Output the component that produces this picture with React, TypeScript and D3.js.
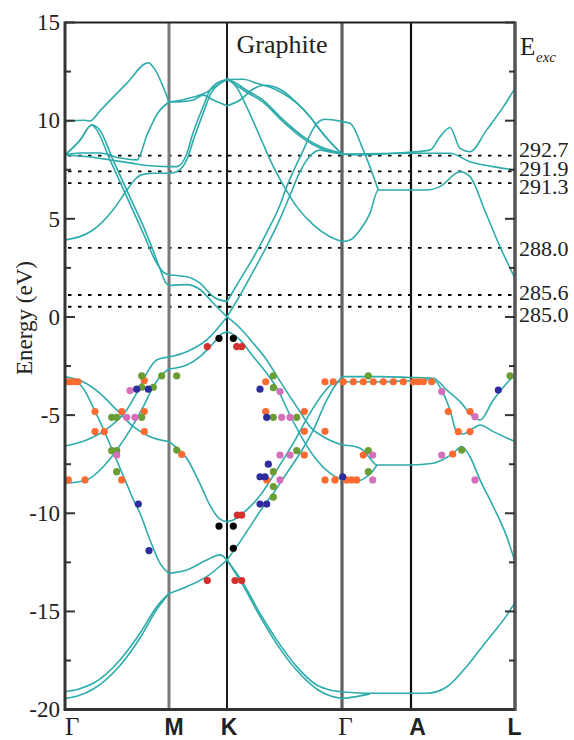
import React from "react";
import * as d3 from "d3";

type P = [number, number];

// ---- axis / labels data ----
const symK = [0, 1.04, 1.62, 2.77, 3.46, 4.5];
const symLabels = ["Γ", "M", "K", "Γ", "A", "L"];
const symBold = [false, true, true, false, true, true];
const energyMajor = [-20, -15, -10, -5, 0, 5, 10, 15];
const energyMinor = [-17.5, -12.5, -7.5, -2.5, 2.5, 7.5, 12.5];
const excEnergies = [292.7, 291.9, 291.3, 288.0, 285.6, 285.0];
const excOrigin = 284.48;

// ---- bands: [k, E(eV)] ----
const bandU1: P[] = [
  [0, 9.95], [0.2, 10.02], [0.25, 9.98], [0.35, 10.5], [0.617, 11.9], [0.833, 12.95], [0.88, 12.75], [1.04, 10.95],
  [1.167, 11.05], [1.283, 11.2], [1.417, 11.45], [1.517, 11.8], [1.62, 12.1],
  [1.783, 12.11], [1.917, 11.9], [2.117, 11.56], [2.317, 10.89], [2.45, 10.2], [2.55, 9.53], [2.65, 8.93], [2.77, 8.3],
];
const bandAlpha: P[] = [
  [0, 8.25], [0.15, 9.0], [0.267, 9.78], [0.317, 9.53], [0.45, 8.0], [0.617, 6.13], [0.783, 4.26], [0.917, 2.74], [0.98, 2.3], [1.04, 2.14],
  [1.217, 2.05], [1.35, 1.72], [1.483, 1.03], [1.62, 0.78],
  [1.75, 1.9], [1.88, 3.0], [2.017, 4.3], [2.15, 5.7], [2.217, 6.64], [2.3, 7.6], [2.383, 8.5], [2.45, 9.27], [2.52, 9.87], [2.6, 10.07], [2.77, 9.95],
  [2.85, 9.87], [2.983, 8.5], [3.133, 6.47],
];
const bandBeta: P[] = [
  [0, 8.25], [0.15, 9.0], [0.267, 9.78], [0.347, 9.53], [0.48, 8.0], [0.647, 6.13], [0.813, 4.26], [0.947, 2.5], [1.0, 1.8], [1.04, 1.6],
  [1.217, 1.65], [1.35, 1.4], [1.483, 0.7], [1.62, 0.0],
  [1.75, 1.1], [1.88, 2.3], [2.017, 3.6], [2.15, 5.0], [2.25, 6.2], [2.35, 7.4], [2.45, 8.2], [2.55, 8.5], [2.65, 8.4], [2.77, 8.3],
];
const bandU3: P[] = [
  [0, 3.92], [0.28, 4.43], [0.48, 5.45], [0.62, 6.47], [0.7, 7.0], [0.77, 7.25], [0.9, 7.32], [1.04, 7.32],
  [1.117, 7.4], [1.217, 8.0], [1.29, 9.1], [1.39, 10.5], [1.46, 11.4], [1.55, 11.9], [1.62, 12.1],
  [1.7, 11.85], [1.8, 11.5], [1.98, 10.95], [2.18, 9.95], [2.38, 9.1], [2.55, 8.6], [2.77, 8.3],
];
const bandU5: P[] = [
  [0, 8.25], [0.25, 8.15], [0.45, 8.0], [0.65, 7.85], [0.85, 7.7], [1.04, 7.66],
  [1.117, 7.66], [1.217, 8.3], [1.28, 9.37], [1.38, 10.7], [1.45, 11.56], [1.55, 12.0], [1.62, 12.1],
  [1.7, 11.95], [1.8, 11.6], [1.98, 11.05], [2.18, 10.05], [2.38, 9.2], [2.55, 8.68], [2.77, 8.34],
];
const bandU4: P[] = [
  [0, 8.25], [0.15, 8.35], [0.35, 8.35], [0.55, 8.1], [0.72, 8.0], [0.82, 9.27], [0.93, 10.4], [1.04, 10.95],
  [1.167, 10.97], [1.283, 11.05], [1.383, 11.3], [1.483, 11.05], [1.62, 10.75],
  [1.75, 11.05], [1.88, 11.6], [2.0, 11.8], [2.15, 11.6], [2.3, 11.0], [2.45, 10.2], [2.55, 9.53], [2.65, 8.93], [2.77, 8.3],
];
const bandKG4: P[] = [
  [1.62, 12.16], [1.717, 11.7], [1.817, 10.7], [1.95, 9.18], [2.083, 7.66], [2.183, 6.72], [2.317, 5.62], [2.483, 4.69], [2.65, 4.09], [2.77, 3.84],
  [2.85, 3.92], [2.95, 4.43], [3.05, 5.28], [3.133, 6.47], [3.35, 6.47], [3.617, 6.47], [3.75, 6.64], [3.95, 7.4], [4.05, 7.15], [4.2, 5.4], [4.35, 3.58], [4.5, 1.97],
];
const bandUpAL1: P[] = [
  [2.77, 8.3], [2.95, 8.25], [3.28, 8.34], [3.65, 8.5], [3.75, 9.18], [3.85, 9.65], [3.95, 8.59], [4.05, 8.42], [4.217, 9.53], [4.383, 10.7], [4.5, 11.65],
];
const bandUpAL2: P[] = [
  [2.77, 8.3], [3.45, 8.34], [3.85, 8.34], [4.05, 7.91], [4.28, 7.66], [4.5, 7.49],
];
const bandLow1: P[] = [
  [0, -19.09], [0.14, -18.95], [0.283, -18.66], [0.55, -17.47], [0.75, -16.11], [0.917, -14.76], [1.04, -14.08],
  [1.217, -13.74], [1.417, -13.23], [1.62, -12.38],
  [1.783, -13.57], [1.95, -15.1], [2.117, -16.45], [2.317, -17.81], [2.517, -18.75], [2.65, -19.0], [2.77, -19.09],
  [3.05, -19.17], [3.617, -19.17], [3.817, -18.85], [4.017, -17.8], [4.217, -16.5], [4.417, -15.2], [4.5, -14.55],
];
const bandLow2: P[] = [
  [0, -19.43], [0.14, -19.28], [0.283, -18.95], [0.55, -17.75], [0.75, -16.35], [0.917, -14.9], [1.04, -14.08],
];
const bandS1: P[] = [
  [0, -3.3], [0.1, -3.3], [0.17, -3.55], [0.3, -4.8], [0.417, -6.1], [0.517, -7.3], [0.617, -8.5], [0.683, -9.3], [0.75, -10.0], [0.85, -11.36], [0.95, -12.55], [1.04, -13.06],
  [1.217, -12.89], [1.417, -12.38], [1.55, -12.12], [1.62, -12.38],
  [1.783, -13.7], [1.95, -15.25], [2.117, -16.65], [2.317, -18.0], [2.517, -18.95], [2.65, -19.3], [2.77, -19.43],
  [2.9, -19.35], [3.05, -19.2],
];
const bandS2: P[] = [
  [0, -3.04], [0.18, -3.3], [0.35, -3.89], [0.517, -4.74], [0.683, -5.59], [0.85, -6.1], [1.04, -6.35],
  [1.08, -6.5], [1.217, -7.2], [1.35, -8.5], [1.45, -9.6], [1.55, -10.3], [1.62, -10.43],
  [1.683, -10.34], [1.817, -9.83], [1.95, -9.1], [2.117, -7.8], [2.283, -6.43], [2.45, -4.9], [2.583, -3.89], [2.683, -3.38], [2.77, -3.3],
  [3.15, -3.3], [3.45, -3.25], [3.683, -3.21], [3.783, -3.89], [3.85, -4.74], [3.917, -5.84], [3.983, -5.96], [4.083, -5.67], [4.15, -5.5], [4.283, -5.84], [4.5, -6.35],
];
const bandSig1: P[] = [
  [1.62, -12.38], [1.717, -11.7], [1.85, -10.68], [1.983, -9.66], [2.083, -8.98], [2.217, -7.96], [2.35, -6.94], [2.483, -5.76], [2.617, -4.23], [2.717, -3.38], [2.77, -3.04],
  [3.15, -3.04], [3.45, -3.08], [3.683, -3.12], [3.817, -3.72], [3.95, -4.31], [4.083, -5.08], [4.15, -5.25], [4.283, -4.23], [4.417, -3.38], [4.5, -2.95],
];
const bandP1: P[] = [
  [0, -6.57], [0.217, -6.27], [0.45, -5.59], [0.617, -4.74], [0.75, -3.55], [0.817, -2.87], [0.917, -2.19], [1.04, -2.04],
  [1.217, -1.77], [1.417, -1.17], [1.62, 0.0],
  [1.75, -0.56], [1.883, -1.34], [2.017, -2.19], [2.117, -3.0], [2.25, -4.06], [2.383, -5.08], [2.45, -5.59], [2.583, -6.1], [2.77, -6.52],
  [2.9, -6.6], [2.98, -6.78], [3.05, -7.2], [3.12, -7.54], [3.45, -7.54], [3.683, -7.45], [3.883, -6.94], [3.967, -6.6], [4.05, -7.12], [4.15, -8.3], [4.283, -9.66], [4.417, -11.19], [4.5, -12.47],
];
const bandP2: P[] = [
  [0, -8.47], [0.217, -8.3], [0.383, -7.63], [0.517, -6.78], [0.65, -5.76], [0.783, -4.57], [0.883, -3.55], [0.95, -3.04], [1.04, -2.65],
  [1.217, -2.45], [1.35, -2.02], [1.483, -1.34], [1.57, -0.85], [1.62, -0.75],
  [1.67, -0.85], [1.75, -1.17], [1.883, -2.02], [2.017, -2.87], [2.117, -3.6], [2.25, -5.0], [2.383, -6.27], [2.517, -7.28], [2.65, -7.96], [2.77, -8.3],
  [2.9, -8.4], [3.0, -8.2], [3.07, -7.9], [3.12, -7.54],
];

const bands: P[][] = [
  bandU1, bandAlpha, bandBeta, bandU3, bandU5, bandU4, bandKG4, bandUpAL1, bandUpAL2,
  bandLow1, bandLow2, bandS1, bandS2, bandSig1, bandP1, bandP2,
];

// ---- projected character dots: [k, E] ----
const dotsOrange: P[] = [
  [0.03, -3.3], [0.06, -3.3], [0.1, -3.3], [0.13, -3.3], [0.793, -3.24],
  [0.3, -4.82], [0.567, -4.82], [0.793, -4.82], [0.3, -5.84], [0.393, -5.84], [0.793, -5.84],
  [0.567, -8.3], [0.033, -8.3], [0.2, -8.3], [1.167, -7.0],
  [2.007, -3.3], [2.007, -4.82], [2.017, -8.3], [2.393, -4.82], [2.393, -5.82], [2.6, -5.82], [2.393, -7.03],
  [2.6, -3.3], [2.683, -3.3], [2.783, -3.3], [2.883, -3.3], [2.983, -3.3], [3.083, -3.3], [3.183, -3.3],
  [3.283, -3.3], [3.383, -3.3], [3.483, -3.3], [3.533, -3.3], [3.583, -3.3], [3.667, -3.3],
  [2.6, -8.3], [2.7, -8.3], [2.817, -8.3], [2.867, -8.3], [2.917, -8.3], [2.983, -7.03],
  [3.833, -4.82], [4.05, -4.82], [3.933, -5.84], [4.05, -5.84], [3.877, -6.98],
];
const dotsGreen: P[] = [
  [0.767, -3.0], [0.967, -3.0], [1.117, -3.0], [0.767, -3.58], [0.883, -3.58],
  [0.467, -5.11], [0.517, -5.11], [0.767, -5.11], [0.467, -6.81], [0.517, -6.81], [0.517, -7.88], [1.117, -6.78],
  [2.083, -3.0], [2.083, -3.6], [2.083, -5.11], [2.317, -5.11], [2.317, -6.81],
  [2.083, -7.88], [2.083, -8.64], [2.083, -9.18],
  [3.033, -3.0], [3.033, -6.81], [3.033, -7.88], [3.967, -6.78], [4.45, -3.0],
];
const dotsPink: P[] = [
  [0.65, -3.75], [0.617, -5.11], [0.7, -5.11], [0.517, -7.03],
  [2.15, -3.8], [2.167, -5.11], [2.25, -5.11], [2.15, -7.03], [2.25, -7.03], [2.15, -8.3],
  [3.077, -7.03], [3.077, -8.3], [3.767, -3.8], [4.1, -5.08], [3.767, -7.03], [4.1, -8.3],
];
const dotsBlue: P[] = [
  [0.717, -3.68], [0.833, -3.68], [0.733, -9.53], [0.84, -11.9],
  [1.95, -3.68], [2.017, -5.11], [2.033, -7.5], [1.95, -8.14], [2.0, -8.14], [1.95, -9.53], [2.017, -9.53],
  [2.777, -8.14], [4.333, -3.72],
];
const dotsRed: P[] = [
  [1.423, -1.51], [1.717, -1.51], [1.767, -1.51], [1.723, -10.09], [1.767, -10.09],
  [1.423, -13.43], [1.7, -13.43], [1.767, -13.43],
];
const dotsBlack: P[] = [
  [1.54, -1.09], [1.683, -1.09], [1.54, -10.65], [1.683, -10.65], [1.683, -11.78],
];

const dotGroups: { pts: P[]; color: string }[] = [
  { pts: dotsOrange, color: "#ff6a30" },
  { pts: dotsGreen, color: "#6a9e32" },
  { pts: dotsPink, color: "#d46fb9" },
  { pts: dotsBlue, color: "#2d2d9e" },
  { pts: dotsRed, color: "#d4302e" },
  { pts: dotsBlack, color: "#000000" },
];

const W = 574;
const H = 740;
const L = 65, R = 515, T = 22.5, B = 709.6;

const serif = "'Liberation Serif','Times New Roman',Times,serif";
const sans = "'Liberation Sans',Arial,Helvetica,sans-serif";

const breaks = [symK[1], symK[2], symK[3]];

function splitBand(b: P[]): P[][] {
  const segs: P[][] = [];
  let cur: P[] = [];
  for (const p of b) {
    cur.push(p);
    if (breaks.some((k) => Math.abs(k - p[0]) < 1e-6)) {
      if (cur.length > 1) segs.push(cur);
      cur = [p];
    }
  }
  if (cur.length > 1) segs.push(cur);
  return segs;
}

export default function App() {
  const x = d3.scaleLinear().domain([0, 4.5]).range([L, R]);
  const y = d3.scaleLinear().domain([-20, 15]).range([B, T]);
  const line = d3
    .line<P>()
    .x((d) => x(d[0]))
    .y((d) => y(d[1]))
    .curve(d3.curveMonotoneX);

  const vStyles = [
    null,
    { stroke: "#7a7a7a", w: 3 },
    { stroke: "#000", w: 1.8 },
    { stroke: "#606060", w: 3.2 },
    { stroke: "#111", w: 2.2 },
    null,
  ];
  const labelDx = [0, 5, 2, 3.5, 6.5, -0.5];
  const excLabelBase = [157, 176, 194, 256, 300, 322];

  return (
    <svg
      width={W}
      height={H}
      style={{ position: "absolute", left: 0, top: 0, background: "#fff" }}
    >
      <defs>
        <clipPath id="plot">
          <rect x={L} y={T} width={R - L} height={B - T} />
        </clipPath>
      </defs>

      {/* dashed excitation levels */}
      {excEnergies.map((e, i) => (
        <line
          key={"d" + i}
          x1={L}
          x2={R}
          y1={y(e - excOrigin)}
          y2={y(e - excOrigin)}
          stroke="#000"
          strokeWidth={1.8}
          strokeDasharray="3.5 6.5"
          strokeDashoffset={-3}
        />
      ))}

      {/* symmetry lines */}
      {symK.map((k, i) =>
        vStyles[i] ? (
          <line
            key={"v" + i}
            x1={x(k)}
            x2={x(k)}
            y1={T}
            y2={B}
            stroke={vStyles[i]!.stroke}
            strokeWidth={vStyles[i]!.w}
          />
        ) : null
      )}

      {/* bands */}
      <g clipPath="url(#plot)" fill="none" stroke="#2eabab" strokeWidth={1.6}>
        {bands.map((b, i) =>
          splitBand(b).map((s, j) => <path key={i + "-" + j} d={line(s) || ""} />)
        )}
      </g>

      {/* dots */}
      {dotGroups.map((g, gi) =>
        g.pts.map((p, i) => (
          <circle key={gi + "-" + i} cx={x(p[0])} cy={y(p[1])} r={3.6} fill={g.color} />
        ))
      )}

      {/* frame */}
      <line x1={L} x2={R} y1={T} y2={T} stroke="#222" strokeWidth={2} />
      <line x1={L} x2={R} y1={B} y2={B} stroke="#333" strokeWidth={3} />
      <line x1={L} x2={L} y1={T - 1} y2={B + 1.5} stroke="#333" strokeWidth={3} />
      <line x1={R} x2={R} y1={T - 1} y2={B + 1.5} stroke="#555" strokeWidth={3.5} />

      {/* ticks */}
      {energyMajor.map((e) => (
        <g key={"t" + e} stroke="#333" strokeWidth={2}>
          <line x1={L} x2={L + 10} y1={y(e)} y2={y(e)} />
          <line x1={R} x2={R - 10} y1={y(e)} y2={y(e)} />
        </g>
      ))}
      {energyMinor.map((e) => (
        <g key={"m" + e} stroke="#333" strokeWidth={2}>
          <line x1={L} x2={L + 6} y1={y(e)} y2={y(e)} />
          <line x1={R} x2={R - 6} y1={y(e)} y2={y(e)} />
        </g>
      ))}

      {/* tick labels */}
      {energyMajor.map((e) => (
        <text
          key={"l" + e}
          x={60}
          y={y(e) + 7.8}
          textAnchor="end"
          fontFamily={serif}
          fontSize={23}
          fill="#222"
        >
          {e}
        </text>
      ))}

      {/* axis title */}
      <text
        transform={`translate(32,318) rotate(-90)`}
        textAnchor="middle"
        fontFamily={serif}
        fontSize={23}
        fill="#222"
      >
        Energy (eV)
      </text>

      {/* title */}
      <text x={282} y={53} textAnchor="middle" fontFamily={serif} fontSize={26} fill="#222">
        Graphite
      </text>

      {/* E_exc */}
      <text x={520} y={55} fontFamily={serif} fontSize={25} fill="#222">
        E
      </text>
      <text x={536} y={62} fontFamily={serif} fontStyle="italic" fontSize={15} fill="#222">
        exc
      </text>
      {excEnergies.map((e, i) => (
        <text key={"e" + i} x={519} y={excLabelBase[i]} fontFamily={serif} fontSize={22} fill="#222">
          {e.toFixed(1)}
        </text>
      ))}

      {/* k labels */}
      {symLabels.map((s, i) => (
        <text
          key={"k" + i}
          x={x(symK[i]) + labelDx[i]}
          y={735}
          textAnchor={i === 0 ? "start" : "middle"}
          fontFamily={symBold[i] ? sans : serif}
          fontWeight={symBold[i] ? "bold" : "normal"}
          fontSize={symBold[i] ? 23 : 25}
          fill="#222"
        >
          {s}
        </text>
      ))}
    </svg>
  );
}
